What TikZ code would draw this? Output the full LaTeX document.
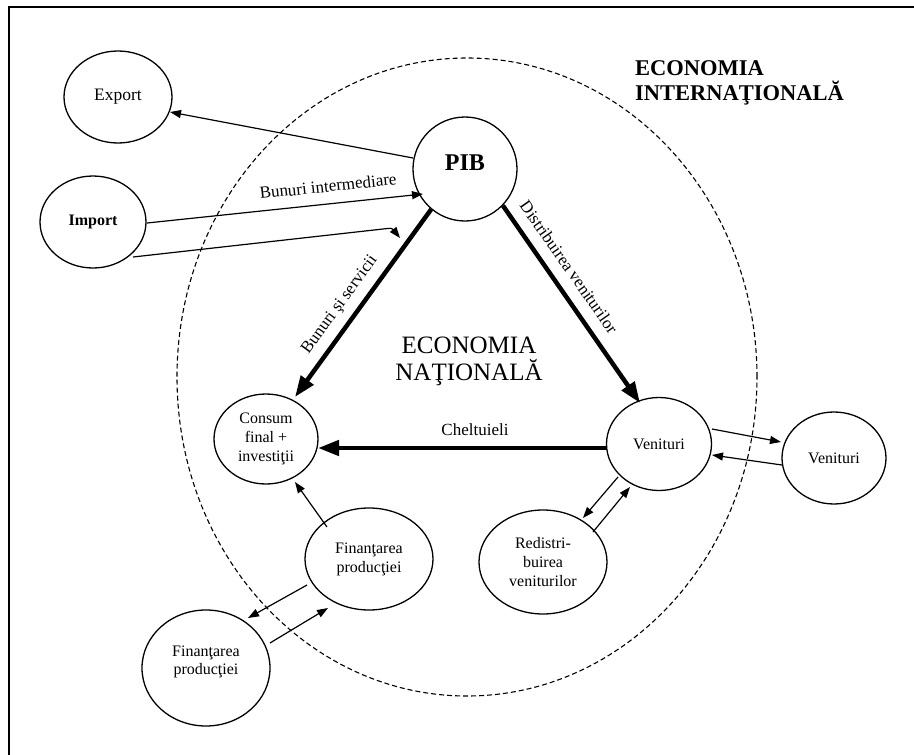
\documentclass[tikz,border=0pt]{standalone}
\usepackage{fontspec}
\setmainfont{Liberation Serif}
\usetikzlibrary{shapes.geometric,arrows.meta}

\begin{document}
\begin{tikzpicture}[x=1pt,y=-1pt,
  every node/.style={inner sep=0pt},
  sector/.style={ellipse,draw,line width=1.3pt,align=center,
    font=\fontsize{16}{19}\selectfont},
  flow/.style={line width=1.2pt,-{Triangle[length=11pt,width=8pt]}},
  mainflow/.style={line width=4.5pt,-{Triangle[length=21pt,width=15pt]}},
  flowlabel/.style={font=\fontsize{17}{20}\selectfont},
  boundary/.style={ellipse,draw,dash pattern=on 5pt off 3pt,line width=1.1pt}
]
\useasboundingbox (0,0) rectangle (914,755);

% frame
\draw[line width=2pt] (9,755) -- (9,7) -- (914,7);

% boundary of the national economy
\node[boundary, minimum width=580pt, minimum height=638pt] (natec) at (467,377) {};

% sectors
\node[sector, minimum width=108pt, minimum height=92pt,
      font=\fontsize{17.5}{20}\selectfont] (exp) at (118,97) {Export};
\node[sector, minimum width=106pt, minimum height=92pt,
      font=\bfseries\fontsize{16}{19}\selectfont] (imp) at (93,222) {Import};
\node[sector, circle, minimum size=104pt,
      font=\bfseries\fontsize{24}{28}\selectfont] (pib) at (465,169)
      {\raisebox{6pt}[\height][\depth]{PIB}};
\node[sector, minimum width=104pt, minimum height=90pt] (cons) at (266,439)
      {Consum\\final +\\investiţii};
\node[sector, minimum width=128pt, minimum height=102pt] (fin1) at (369,559)
      {Finanţarea\\producţiei};
\node[sector, minimum width=128pt, minimum height=116pt] (fin2) at (206,668)
      {\raisebox{6pt}[\height][\depth]{\begin{tabular}{@{}c@{}}Finanţarea\\[-1pt]producţiei\end{tabular}}};
\node[sector, minimum width=105pt, minimum height=93pt] (ven1) at (659,444) {Venituri};
\node[sector, minimum width=104pt, minimum height=92pt] (ven2) at (834,458) {Venituri};
\node[sector, minimum width=128pt, minimum height=104pt] (red) at (543,562)
      {Redistri-\\buirea\\veniturilor};

% free end of the second import flow
\coordinate (impend) at (400,238);

% main circuit
\draw[mainflow] (pib.230) -- ([shift={(29,-42)}]cons.center);
\draw[mainflow] (pib.-44) -- ([shift={(-19,-41)}]ven1.center);
\draw[mainflow] ([shift={(-52,4)}]ven1.center) -- ([shift={(52,9)}]cons.center);

% secondary flows
\draw[flow] ([shift={(-52,-11)}]pib.center) -- ([shift={(52,15)}]exp.center);
\draw[flow] ([shift={(54,1)}]imp.center) -- ([shift={(-42,25)}]pib.center);
\draw[flow] ([shift={(40,35)}]imp.center) -- (383,229) .. controls (392,228) .. (impend);
\draw[flow] ([shift={(-42,-32)}]fin1.center) -- ([shift={(29,43)}]cons.center);
\draw[flow] ([shift={(-62,26)}]fin1.center) -- ([shift={(42,-50)}]fin2.center);
\draw[flow] ([shift={(64,-25)}]fin2.center) -- ([shift={(-41,49)}]fin1.center);
\draw[flow] ([shift={(-41,33)}]ven1.center) -- ([shift={(40,-44)}]red.center);
\draw[flow] ([shift={(50,-30)}]red.center) -- ([shift={(-29,43)}]ven1.center);
\draw[flow] ([shift={(53,-15)}]ven1.center) -- ([shift={(-53,-16)}]ven2.center);
\draw[flow] ([shift={(-52,7)}]ven2.center) -- ([shift={(53,11)}]ven1.center);

% flow labels
\node[flowlabel, rotate=6] (lbinter) at (328,186) {Bunuri intermediare};
\node[flowlabel, rotate=54] (lbserv) at (340,305) {Bunuri şi servicii};
\node[flowlabel, rotate=-55] (ldistr) at (569,267) {Distribuirea veniturilor};
\node[flowlabel] (lchelt) at (475,430) {Cheltuieli};

% titles
\node[anchor=north west, align=left,
      font=\bfseries\fontsize{22.5}{25}\selectfont] (intl) at (635,60)
      {ECONOMIA\\INTERNAŢIONALĂ};
\node[anchor=north, align=center,
      font=\fontsize{25}{27}\selectfont] (natl) at (469,337)
      {ECONOMIA\\NAŢIONALĂ};
\end{tikzpicture}
\end{document}
